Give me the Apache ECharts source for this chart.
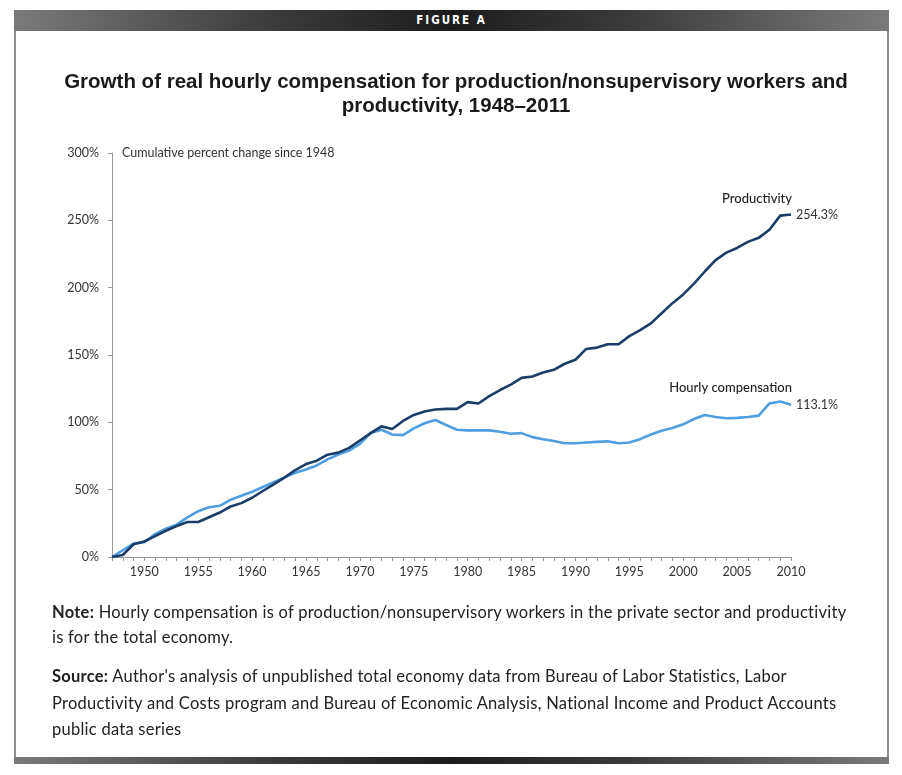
<!DOCTYPE html>
<html>
<head>
<meta charset="utf-8">
<script src="https://cdn.jsdelivr.net/npm/echarts@6.0.0/dist/echarts.min.js"></script>
<style>
  html, body { margin: 0; padding: 0; background: #fff; }
  #page { position: relative; width: 902px; height: 775px; overflow: hidden; }
  .bar {
    position: absolute; left: 14px; width: 875px;
    background: linear-gradient(to right, #7a7a7a 0%, #3a3a3a 30%, #1c1c1c 50%, #3a3a3a 70%, #7a7a7a 100%);
  }
  #topbar { top: 10px; height: 21px; color: #fff; text-align: center;
    font: bold 11.5px "DejaVu Sans Condensed", "DejaVu Sans", sans-serif; letter-spacing: 2px; line-height: 21px; }
  #botbar { top: 757px; height: 7px; }
  .side { position: absolute; top: 31px; height: 727px; width: 2px; background: #8e8e8e; }
  #chart { position: absolute; left: 0; top: 0; width: 902px; height: 775px; }
  .note { position: absolute; left: 52px; width: 820px; color: #222; white-space: nowrap;
    font: 16.5px Lato, "Open Sans", sans-serif; letter-spacing: 0.25px; }
  .note b { font-weight: bold; }
</style>
</head>
<body>
<div id="page">
  <div id="topbar" class="bar">FIGURE A</div>
  <div class="side" style="left:14px"></div>
  <div class="side" style="left:887px"></div>
  <div id="botbar" class="bar"></div>
  <div id="chart"></div>
  <div class="note" style="top:600px; line-height:25px"><b>Note:</b> Hourly compensation is of production/nonsupervisory workers in the private sector and productivity<br>is for the total economy.</div>
  <div class="note" style="top:663px; line-height:26.5px"><b>Source:</b> Author's analysis of unpublished total economy data from Bureau of Labor Statistics, Labor<br>Productivity and Costs program and Bureau of Economic Analysis, National Income and Product Accounts<br>public data series</div>
</div>
<script>
var years = [];
for (var y = 1948; y <= 2011; y++) years.push(String(y));

// cumulative percent change since 1948
var productivity = [
  0, 1.5, 9.5, 11.5, 15.5, 19.5, 23, 26, 26, 29.5,
  33, 37.5, 40, 44, 49, 54, 59, 64.5, 69, 71.5,
  76, 77.5, 81, 86.5, 92, 97, 95, 101, 105.5, 108,
  109.5, 110, 110, 115, 114, 119.5, 124, 128, 133, 134,
  137, 139, 143.5, 146.5, 154.5, 155.5, 158, 158, 164, 168.5,
  173.5, 181, 188.5, 195, 203, 212, 220.5, 226, 229.5, 234,
  237, 243, 253.5, 254.3
];
var compensation = [
  0, 5, 10, 11, 17, 21, 24, 29.5, 34, 37,
  38, 42.5, 45.5, 48.5, 52, 55.5, 59, 62.5, 65, 68,
  72.5, 76, 79, 84, 92, 94.5, 91, 90.5, 95.5, 99.3,
  101.7, 98, 94.5, 94, 94, 94, 93, 91.5, 92, 89,
  87.5, 86.2, 84.5, 84.5, 85, 85.5, 86, 84.5, 85, 87.5,
  91, 93.8, 95.8, 98.5, 102.5, 105.5, 104, 103, 103.3, 104,
  105, 114, 115.5, 113.1
];

// labels as printed in the original figure (they sit one category to the right)
var xTickLabels = ['1950', '1955', '1960', '1965', '1970', '1975', '1980',
  '1985', '1990', '1995', '2000', '2005', '2010'];

var FONT = 'Lato, "Open Sans", sans-serif';
var DARK = '#1d3d69';
var LIGHT = '#4e9ee0';

var chart = echarts.init(document.getElementById('chart'));

function nameMark(series, data, offset) {
  var last = data.length - 1;
  return {
    symbol: 'circle',
    symbolSize: 0,
    silent: true,
    label: {
      show: true,
      position: 'inside',
      align: 'right',
      offset: offset,
      formatter: series,
      color: '#1f1f1f',
      fontFamily: FONT,
      fontSize: 13,
      fontWeight: 500
    },
    data: [{ coord: [last, data[last]] }]
  };
}

var option = {
  animation: false,
  title: {
    text: 'Growth of real hourly compensation for production/nonsupervisory workers and\nproductivity, 1948\u20132011',
    left: '50%',
    top: 65,
    textAlign: 'center',
    textStyle: {
      fontFamily: '"Liberation Sans", Arial, sans-serif',
      fontWeight: 'bold',
      fontSize: 20.5,
      lineHeight: 24,
      color: '#1a1a1a'
    }
  },
  grid: { left: 112, right: 111, top: 153, bottom: 218 },
  xAxis: {
    type: 'category',
    data: years,
    boundaryGap: false,
    axisLine: { lineStyle: { color: '#9a9a9a', width: 1 } },
    axisTick: { interval: 0, length: 4, lineStyle: { color: '#9a9a9a' } },
    axisLabel: {
      interval: function (i) { return i % 5 === 3; },
      formatter: function (v, i) { return xTickLabels[(i - 3) / 5]; },
      margin: 8,
      color: '#333',
      fontFamily: FONT,
      fontSize: 12.5
    },
    splitLine: { show: false }
  },
  yAxis: {
    type: 'value',
    min: 0,
    max: 300,
    interval: 50,
    name: 'Cumulative percent change since 1948',
    nameLocation: 'end',
    nameGap: 0,
    nameTextStyle: {
      align: 'left',
      verticalAlign: 'middle',
      padding: [0, 0, 0, 10],
      color: '#333',
      fontFamily: FONT,
      fontSize: 12.5
    },
    axisLine: { show: true, lineStyle: { color: '#9a9a9a', width: 1 } },
    axisTick: { show: true, length: 4, lineStyle: { color: '#9a9a9a' } },
    axisLabel: {
      formatter: '{value}%',
      margin: 13,
      color: '#333',
      fontFamily: FONT,
      fontSize: 12.5
    },
    splitLine: { show: false }
  },
  series: [
    {
      name: 'Productivity',
      type: 'line',
      data: productivity,
      showSymbol: false,
      lineStyle: { color: DARK, width: 2.6 },
      itemStyle: { color: DARK },
      endLabel: {
        show: true,
        distance: 5,
        formatter: function (p) { return p.value.toFixed(1) + '%'; },
        color: '#333',
        fontFamily: FONT,
        fontSize: 12.5
      },
      markPoint: nameMark('Productivity', productivity, [1, -16]),
      z: 3
    },
    {
      name: 'Hourly compensation',
      type: 'line',
      data: compensation,
      showSymbol: false,
      lineStyle: { color: LIGHT, width: 2.6 },
      itemStyle: { color: LIGHT },
      endLabel: {
        show: true,
        distance: 5,
        formatter: function (p) { return p.value.toFixed(1) + '%'; },
        color: '#333',
        fontFamily: FONT,
        fontSize: 12.5
      },
      markPoint: nameMark('Hourly compensation', compensation, [1, -17]),
      z: 2
    }
  ]
};

chart.setOption(option);
window.addEventListener('resize', function () { chart.resize(); });
</script>
</body>
</html>
